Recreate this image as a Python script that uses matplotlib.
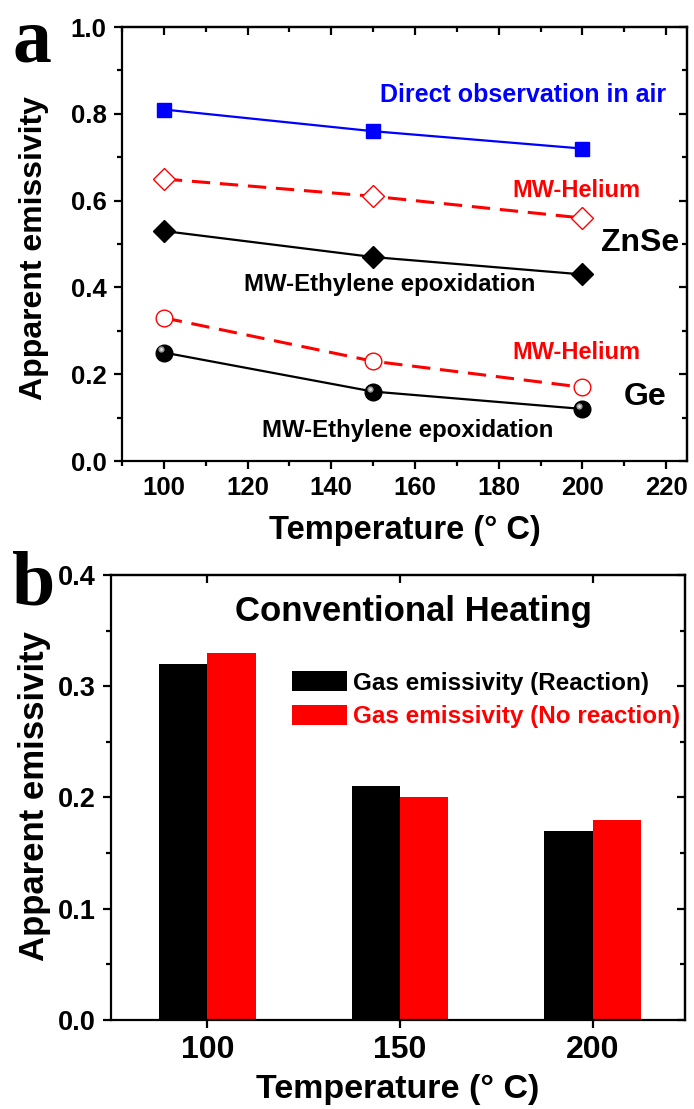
import matplotlib
matplotlib.use("Agg")
import matplotlib.pyplot as plt
from matplotlib.ticker import MultipleLocator, FixedLocator, NullFormatter
from matplotlib.transforms import ScaledTranslation

plt.rcParams['font.family'] = ['Liberation Sans', 'DejaVu Sans']
plt.rcParams['font.weight'] = 'bold'
plt.rcParams['axes.linewidth'] = 1.6

# ---- panel (a): apparent emissivity vs temperature ----
temps_a = [100, 150, 200]
znse_air = [0.81, 0.76, 0.72]
znse_helium = [0.65, 0.61, 0.56]
znse_ethylene = [0.53, 0.47, 0.43]
ge_helium = [0.33, 0.23, 0.17]
ge_ethylene = [0.25, 0.16, 0.12]

# ---- panel (b): conventional heating ----
temps_b = [100, 150, 200]
gas_reaction = [0.32, 0.21, 0.17]
gas_no_reaction = [0.33, 0.20, 0.18]

BLUE = '#0000ff'
RED = '#ff0000'

fig = plt.figure(figsize=(6.94, 11.09), dpi=100)
ax1 = fig.add_axes([0.1758, 0.5843, 0.8141, 0.3913])
ax2 = fig.add_axes([0.1600, 0.0803, 0.8271, 0.4013])


def mirror_ticks(ax, xmajor, xminor, ymajor, yminor, xlab, ylab):
    ax.tick_params(which='major', direction='out', length=6, width=1.6, pad=5)
    ax.tick_params(which='minor', direction='out', length=3.5, width=1.6)
    ax.tick_params(axis='x', labelsize=xlab)
    ax.tick_params(axis='y', labelsize=ylab)
    sx = ax.secondary_xaxis('top')
    sy = ax.secondary_yaxis('right')
    for axis, maj, mnr in ((sx.xaxis, xmajor, xminor), (sy.yaxis, ymajor, yminor)):
        axis.set_major_locator(maj)
        if mnr is not None:
            axis.set_minor_locator(mnr)
        axis.set_major_formatter(NullFormatter())
        axis.set_tick_params(which='major', direction='in', length=6, width=1.6)
        axis.set_tick_params(which='minor', direction='in', length=3.5, width=1.6)


# panel (a)
ax1.plot(temps_a, znse_air, '-', color=BLUE, lw=1.6, marker='s', ms=10,
         mfc=BLUE, mec=BLUE, zorder=3)
ax1.plot(temps_a, znse_helium, color=RED, lw=2.2, ls=(0, (6, 3.2)), marker='D',
         ms=11, mfc='white', mec=RED, mew=1.0, zorder=3)
ax1.plot(temps_a, znse_ethylene, '-', color='black', lw=1.6, marker='D', ms=11,
         mfc='black', mec='black', zorder=3)
ax1.plot(temps_a, ge_helium, color=RED, lw=2.2, ls=(0, (6, 3.2)), marker='o',
         ms=12, mfc='white', mec=RED, mew=1.0, zorder=3)
ax1.plot(temps_a, ge_ethylene, '-', color='black', lw=1.6, marker='o', ms=12,
         mfc='black', mec='black', zorder=3)
# glossy highlight on the Ge spheres
hl = ax1.transData + ScaledTranslation(-2.2 / 72, 2.2 / 72, fig.dpi_scale_trans)
ax1.plot(temps_a, ge_ethylene, ls='none', marker='o', ms=4.5, mfc='#9a9a9a',
         mec='none', transform=hl, zorder=4)
ax1.plot(temps_a, ge_ethylene, ls='none', marker='o', ms=2, mfc='#e6e6e6',
         mec='none', transform=hl, zorder=5)

ax1.set_xlim(90, 225)
ax1.set_ylim(0.0, 1.0)
ax1.xaxis.set_major_locator(MultipleLocator(20))
ax1.xaxis.set_minor_locator(MultipleLocator(10))
ax1.yaxis.set_major_locator(MultipleLocator(0.2))
ax1.yaxis.set_minor_locator(MultipleLocator(0.1))
ax1.set_xticks([100, 120, 140, 160, 180, 200, 220])
ax1.yaxis.set_major_formatter(plt.FormatStrFormatter('%.1f'))
mirror_ticks(ax1, MultipleLocator(20), MultipleLocator(10),
             MultipleLocator(0.2), MultipleLocator(0.1), 18.5, 18.5)
ax1.set_xlabel('Temperature (° C)', fontsize=23.5, fontweight='bold')
ax1.set_ylabel('Apparent emissivity', fontsize=23, fontweight='bold')
ax1.xaxis.set_label_coords(0.5, -0.124)
ax1.yaxis.set_label_coords(-0.13, 0.49)

ax1.text(185.8, 0.843, 'Direct observation in air', color=BLUE, fontsize=18,
         ha='center', va='center')
ax1.text(198.7, 0.624, 'MW-Helium', color=RED, fontsize=17, ha='center', va='center')
ax1.text(213.8, 0.502, 'ZnSe', color='black', fontsize=23, ha='center', va='center')
ax1.text(154.0, 0.406, 'MW-Ethylene epoxidation', color='black', fontsize=17.3,
         ha='center', va='center')
ax1.text(198.7, 0.249, 'MW-Helium', color=RED, fontsize=17, ha='center', va='center')
ax1.text(215.0, 0.147, 'Ge', color='black', fontsize=23, ha='center', va='center')
ax1.text(158.3, 0.071, 'MW-Ethylene epoxidation', color='black', fontsize=17.3,
         ha='center', va='center')

# panel (b)
bw = 12.5
b1 = ax2.bar([t - bw / 2 for t in temps_b], gas_reaction, width=bw, color='black',
             label='Gas emissivity (Reaction)')
b2 = ax2.bar([t + bw / 2 for t in temps_b], gas_no_reaction, width=bw, color=RED,
             label='Gas emissivity (No reaction)')
ax2.set_xlim(75, 224)
ax2.set_ylim(0.0, 0.4)
ax2.xaxis.set_major_locator(FixedLocator(temps_b))
ax2.yaxis.set_major_locator(MultipleLocator(0.1))
ax2.yaxis.set_minor_locator(MultipleLocator(0.05))
ax2.yaxis.set_major_formatter(plt.FormatStrFormatter('%.1f'))
mirror_ticks(ax2, FixedLocator(temps_b), None,
             MultipleLocator(0.1), MultipleLocator(0.05), 23, 19.5)
ax2.set_xlabel('Temperature (° C)', fontsize=24.5, fontweight='bold')
ax2.set_ylabel('Apparent emissivity', fontsize=25, fontweight='bold')
ax2.xaxis.set_label_coords(0.5, -0.122)
ax2.yaxis.set_label_coords(-0.104, 0.503)

ax2.text(153.4, 0.367, 'Conventional Heating', fontsize=25, ha='center', va='center')
leg = ax2.legend(handles=[b1, b2], loc='upper left', bbox_to_anchor=(0.315, 0.784),
                 frameon=False, fontsize=17.5, handlelength=2.26, handleheight=0.9,
                 handletextpad=0.25, labelspacing=0.42, borderpad=0, borderaxespad=0)
for txt, col in zip(leg.get_texts(), ['black', RED]):
    txt.set_color(col)

# panel letters
fig.text(0.018, 0.961, 'a', fontsize=56, fontweight='bold',
         family=['Liberation Serif', 'DejaVu Serif'], ha='left', va='center')
fig.text(0.018, 0.472, 'b', fontsize=56, fontweight='bold',
         family=['Liberation Serif', 'DejaVu Serif'], ha='left', va='center')

fig.savefig('out.png', dpi=100)
